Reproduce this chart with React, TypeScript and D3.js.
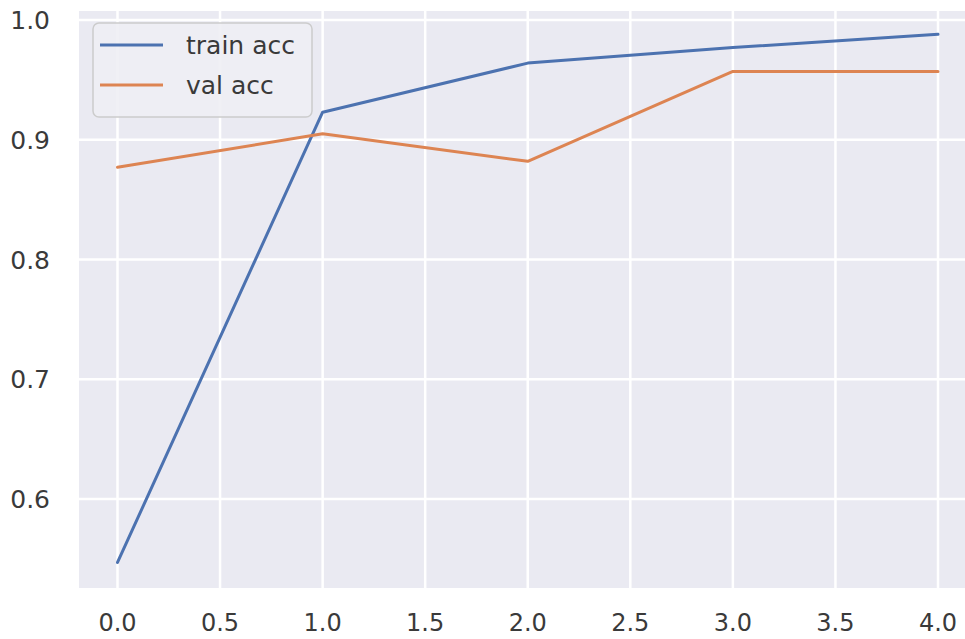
import React from "react";
import * as d3 from "d3";

const epochs = [0, 1, 2, 3, 4];
const trainAcc = [0.547, 0.923, 0.964, 0.977, 0.988];
const valAcc = [0.877, 0.905, 0.882, 0.957, 0.957];
const xTicks = [0, 0.5, 1, 1.5, 2, 2.5, 3, 3.5, 4];
const yTicks = [0.6, 0.7, 0.8, 0.9, 1.0];
const seriesNames = ["train acc", "val acc"];
const colors = ["#4C72B0", "#DD8452"];

export default function App() {
  const W = 965, H = 639;
  const plot = { left: 79, top: 11, right: 965, bottom: 588 };
  const x = d3.scaleLinear().domain([0, 4]).range([117.5, 938]);
  const y = d3.scaleLinear().domain([0.6, 1.0]).range([499, 20]);
  const line = d3.line<number>().x((_, i) => x(epochs[i])).y((d) => y(d));
  const font = "'DejaVu Sans', sans-serif";
  const fs = 25;
  return (
    <svg width={W} height={H} style={{ position: "absolute", left: 0, top: 0, background: "#fff" }} fontFamily={font}>
      <defs>
        <clipPath id="pc">
          <rect x={plot.left} y={plot.top} width={plot.right - plot.left} height={plot.bottom - plot.top} />
        </clipPath>
      </defs>
      <rect x={plot.left} y={plot.top} width={plot.right - plot.left} height={plot.bottom - plot.top} fill="#EAEAF2" />
      <g clipPath="url(#pc)">
        {xTicks.map((t) => (
          <line key={"gx" + t} x1={x(t)} x2={x(t)} y1={plot.top} y2={plot.bottom} stroke="#fff" strokeWidth={2.5} />
        ))}
        {yTicks.map((t) => (
          <line key={"gy" + t} x1={plot.left} x2={plot.right} y1={y(t)} y2={y(t)} stroke="#fff" strokeWidth={2.5} />
        ))}
        <path d={line(trainAcc) || ""} fill="none" stroke={colors[0]} strokeWidth={3} strokeLinejoin="round" strokeLinecap="round" />
        <path d={line(valAcc) || ""} fill="none" stroke={colors[1]} strokeWidth={3} strokeLinejoin="round" strokeLinecap="round" />
      </g>
      {xTicks.map((t) => (
        <text key={"tx" + t} x={x(t)} y={631} textAnchor="middle" fontSize={24} fill="#3a3a3a">
          {t.toFixed(1)}
        </text>
      ))}
      {yTicks.map((t) => (
        <text key={"ty" + t} x={50} y={y(t)} dy="0.36em" textAnchor="end" fontSize={fs} fill="#3a3a3a">
          {t.toFixed(1)}
        </text>
      ))}
      <g>
        <rect x={93} y={23} width={219} height={94} rx={6} fill="#EEEEF4" fillOpacity={0.9} stroke="#CCCCCC" strokeWidth={1.5} />
        {seriesNames.map((n, i) => (
          <g key={n}>
            <line x1={100} x2={163} y1={45 + i * 40} y2={45 + i * 40} stroke={colors[i]} strokeWidth={3} />
            <text x={186} y={45 + i * 40} dy="0.36em" fontSize={fs} fill="#3a3a3a">{n}</text>
          </g>
        ))}
      </g>
    </svg>
  );
}
